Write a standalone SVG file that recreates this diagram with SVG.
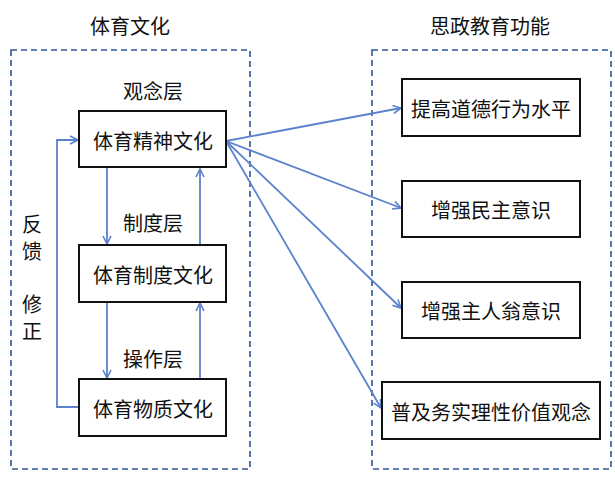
<svg xmlns="http://www.w3.org/2000/svg" width="615" height="477" viewBox="0 0 615 477">
<defs>
<style>
text{font-family:"Noto Sans CJK SC","Noto Sans CJK JP",sans-serif;fill:#111;text-anchor:middle;dominant-baseline:central}
.title{font-size:20px}
.lbl{font-size:20px}
.node rect{fill:#fff;stroke:#111;stroke-width:2}
.node text{font-size:20px}
.frame{fill:none;stroke:#2F5597;stroke-width:1.6;stroke-dasharray:6,4}
.conn{fill:none;stroke:#5B82CC;stroke-width:1.8}
</style>
<marker id="ah" viewBox="0 0 10 10" refX="9" refY="5" markerWidth="10" markerHeight="10" markerUnits="userSpaceOnUse" orient="auto">
<path d="M1,1 L9,5 L1,9" fill="none" stroke="#5B82CC" stroke-width="1.6"/>
</marker>
</defs>
<rect width="615" height="477" fill="#fff"/>
<g id="frames">
<rect class="frame" x="11" y="50" width="239" height="419"/>
<rect class="frame" x="372" y="50" width="239" height="419"/>
</g>
<g id="labels">
<text class="title" x="130" y="25">体育文化</text>
<text class="title" x="490" y="25">思政教育功能</text>
<text class="lbl" x="153" y="90">观念层</text>
<text class="lbl" x="153" y="222">制度层</text>
<text class="lbl" x="153" y="358">操作层</text>
<text class="lbl" x="32" y="223">反</text>
<text class="lbl" x="32" y="250">馈</text>
<text class="lbl" x="32" y="303">修</text>
<text class="lbl" x="32" y="330">正</text>
</g>
<g id="connectors">
<line class="conn" x1="107" y1="168" x2="107" y2="244" marker-end="url(#ah)"/>
<line class="conn" x1="200" y1="245" x2="200" y2="169" marker-end="url(#ah)"/>
<line class="conn" x1="107" y1="303" x2="107" y2="378" marker-end="url(#ah)"/>
<line class="conn" x1="200" y1="379" x2="200" y2="303" marker-end="url(#ah)"/>
<polyline class="conn" points="79,407 57,407 57,140 78,140" marker-end="url(#ah)"/>
<line class="conn" x1="226" y1="141" x2="401" y2="108" marker-end="url(#ah)"/>
<line class="conn" x1="226" y1="141" x2="401" y2="208" marker-end="url(#ah)"/>
<line class="conn" x1="226" y1="141" x2="401" y2="308" marker-end="url(#ah)"/>
<line class="conn" x1="226" y1="141" x2="381" y2="408" marker-end="url(#ah)"/>
</g>
<g id="n1" class="node"><rect x="79" y="111" width="147" height="56"/><text x="153" y="140">体育精神文化</text></g>
<g id="n2" class="node"><rect x="79" y="245" width="147" height="57"/><text x="153" y="274">体育制度文化</text></g>
<g id="n3" class="node"><rect x="79" y="379" width="147" height="57"/><text x="153" y="408">体育物质文化</text></g>
<g id="r1" class="node"><rect x="402" y="79" width="178" height="57"/><text x="491" y="108">提高道德行为水平</text></g>
<g id="r2" class="node"><rect x="402" y="181" width="178" height="56"/><text x="491" y="209">增强民主意识</text></g>
<g id="r3" class="node"><rect x="402" y="282" width="178" height="56"/><text x="491" y="310">增强主人翁意识</text></g>
<g id="r4" class="node"><rect x="382" y="382" width="218" height="57"/><text x="491" y="411">普及务实理性价值观念</text></g>
</svg>
